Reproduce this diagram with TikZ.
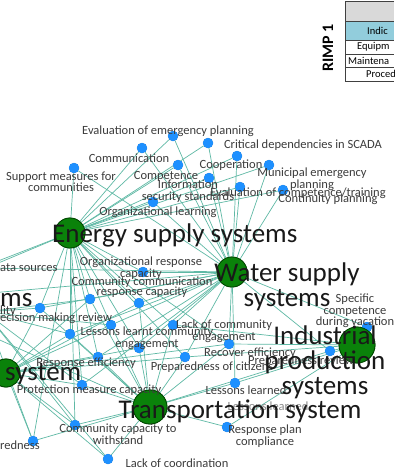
\documentclass[tikz,border=0pt]{standalone}
\usepackage{fontspec}
\setmainfont{Carlito}
\usetikzlibrary{positioning}
\definecolor{hubgreen}{RGB}{10,130,10}
\definecolor{hubline}{RGB}{0,70,0}
\definecolor{nodeblue}{RGB}{30,144,255}
\definecolor{edgeteal}{RGB}{95,185,165}
\definecolor{labelgray}{RGB}{60,60,60}
\definecolor{headgray}{RGB}{217,217,217}
\definecolor{rowblue}{RGB}{146,205,220}

\begin{document}
\begin{tikzpicture}[x=1pt, y=-1pt,
    % Node styles
    hub/.style={circle, draw=hubline, fill=hubgreen, thick, inner sep=0pt},
    item/.style={circle, fill=nodeblue, draw=nodeblue!75!black, line width=0.3pt, minimum size=10pt, inner sep=0pt},
    hublabel/.style={font=\fontsize{27}{25}\selectfont, text=black!90, align=center, inner sep=0pt},
    itemlabel/.style={font=\fontsize{12.5}{11.5}\selectfont, text=labelgray, align=center, inner sep=0pt},
    celltext/.style={font=\fontsize{10.5}{12}\selectfont, anchor=west, inner sep=0pt},
    % Edge styles
    edge/.style={draw=edgeteal, line width=0.7pt},
    cell/.style={draw=black!75, line width=0.6pt}
]
\useasboundingbox (0,0) rectangle (394,469);
\fill[white] (0,0) rectangle (394,469);
\clip (0,0) rectangle (394,469);

% Table corner
\fill[headgray] (345,1) rectangle (394,21);
\fill[rowblue] (345,21) rectangle (394,40);
\draw[cell] (394,1) -- (345,1) -- (345,81) -- (394,81);
\draw[cell] (345,21) -- (394,21);
\draw[cell] (345,40) -- (394,40);
\draw[cell] (345,54) -- (394,54);
\draw[cell] (345,67) -- (394,67);
\node[celltext] (tindic) at (367,31) {Indic};
\node[celltext] (tequip) at (357,47) {Equipm};
\node[celltext] (tmaint) at (348,61) {Maintena};
\node[celltext] (tproc) at (366,74) {Procedu};
\node[rotate=90, font=\fontsize{16}{16}\selectfont\bfseries, inner sep=0pt] (rimp) at (328,48) {RIMP 1};

% Hubs
\node[hub, minimum size=30pt] (energy) at (70,233) {};
\node[hub, minimum size=30pt] (water) at (232,272) {};
\node[hub, minimum size=36pt] (indus) at (357,345) {};
\node[hub, minimum size=34pt] (transp) at (150,407) {};
\node[hub, minimum size=28pt] (lefthub) at (6,373) {};

% Hubs outside the frame
\coordinate (offsys) at (-90,300);
\coordinate (offdata) at (-20,268);
\coordinate (offlity) at (-15,312);

% Top items
\node[item] (evalplan) at (173,136) {};
\node[item] (comm) at (142,148) {};
\node[item] (support) at (74,168) {};
\node[item] (compet) at (178,165) {};
\node[item] (orglearn) at (153,202) {};
\node[item] (scada) at (208,143) {};
\node[item] (coop) at (237,156) {};
\node[item] (munic) at (269,165) {};
\node[item] (infosec) at (209,178) {};
\node[item] (evalcomp) at (240,187) {};
\node[item] (contin) at (283,190) {};

% Middle items
\node[item] (orgresp) at (143,272) {};
\node[item] (decrev) at (40,308) {};
\node[item] (commcom) at (90,299) {};
\node[item] (respcap) at (139,303) {};
\node[item] (lesslc) at (111,325) {};
\node[item] (lackce) at (173,325) {};
\node[item] (learnrev) at (70,334) {};
\node[item] (engage) at (139,348) {};
\node[item] (recover) at (229,344) {};
\node[item] (respeff) at (98,357) {};
\node[item] (prepcit) at (185,357) {};
\node[item] (prepre) at (330,351) {};
\node[item] (specific) at (367,327) {};

% Bottom items
\node[item] (protect) at (82,385) {};
\node[item] (lesson) at (235,383) {};
\node[item] (respplan) at (227,427) {};
\node[item] (capwith) at (75,425) {};
\node[item] (prepared) at (33,441) {};
\node[item] (lackco) at (108,459) {};

% Draw all edges
\begin{scope}[on background layer/.try]
\foreach \n in {support, comm, evalplan, compet, orglearn, scada, coop, munic, infosec, evalcomp, contin, orgresp, commcom, respcap, decrev, lesslc, lackce, learnrev, engage, recover, respeff, prepcit, protect, capwith, prepared, offdata, offsys}
  \draw[edge] (energy) -- (\n);
\foreach \n in {evalplan, scada, coop, munic, infosec, evalcomp, contin, compet, orglearn, comm, support, orgresp, commcom, respcap, decrev, lesslc, lackce, learnrev, engage, recover, respeff, prepcit, prepre, specific, lesson, protect, offdata, offsys}
  \draw[edge] (water) -- (\n);
\foreach \n in {engage, respeff, prepcit, recover, protect, lesson, respplan, capwith, prepared, lackco, lackce, lesslc, learnrev, prepre, decrev, commcom, respcap, offsys}
  \draw[edge] (transp) -- (\n);
\foreach \n in {prepre, specific, recover, prepcit, lesson, respplan, lackce}
  \draw[edge] (indus) -- (\n);
\foreach \n in {respeff, protect, capwith, prepared, lackco, learnrev, decrev, engage, prepcit, lesslc, commcom, respcap, recover}
  \draw[edge] (lefthub) -- (\n);
\foreach \n in {decrev, learnrev, lesslc, commcom, protect, capwith, prepared, lackco}
  \draw[edge] (offlity) -- (\n);
\end{scope}

% Redraw nodes over the edges
\foreach \n in {evalplan, comm, support, compet, orglearn, scada, coop, munic, infosec, evalcomp, contin, orgresp, decrev, commcom, respcap, lesslc, lackce, learnrev, engage, recover, respeff, prepcit, prepre, specific, protect, lesson, respplan, capwith, prepared, lackco}
  \fill[nodeblue] (\n) circle (5pt);
\foreach \n/\r in {energy/15, water/15, indus/18, transp/17, lefthub/14}
  \draw[hubline, fill=hubgreen, thick] (\n) circle (\r pt);

% Item labels
\node[itemlabel] (l-evalplan) at (168,131) {Evaluation of emergency planning};
\node[itemlabel] (l-comm) at (129,158) {Communication};
\node[itemlabel] (l-support) at (61,182) {Support measures for\\communities};
\node[itemlabel] (l-compet) at (166,176) {Competence};
\node[itemlabel] (l-infosec) at (188,191) {Information\\security standards};
\node[itemlabel] (l-orglearn) at (158,212) {Organizational learning};
\node[itemlabel] (l-scada) at (303,145) {Critical dependencies in SCADA};
\node[itemlabel] (l-coop) at (231,165) {Cooperation};
\node[itemlabel] (l-munic) at (312,179) {Municipal emergency\\planning};
\node[itemlabel] (l-evalcomp) at (298,193) {Evaluation of competence/training};
\node[itemlabel] (l-contin) at (328,199) {Continuity planning};
\node[itemlabel, anchor=west] (l-data) at (0,268) {ata sources};
\node[itemlabel] (l-orgresp) at (141,268) {Organizational response\\capacity};
\node[itemlabel] (l-commcom) at (142,282) {Community communication};
\node[itemlabel] (l-respcap) at (142,292) {response capacity};
\node[itemlabel, anchor=west] (l-lity) at (0,311) {lity};
\node[itemlabel, anchor=west] (l-decrev) at (0,318) {ecision making review};
\node[itemlabel] (l-lesslc) at (147,338) {Lessons learnt community\\engagement};
\node[itemlabel] (l-lackce) at (224,331) {Lack of community\\engagement};
\node[itemlabel] (l-recover) at (250,353) {Recover efficiency};
\node[itemlabel] (l-respeff) at (86,363) {Response efficiency};
\node[itemlabel] (l-prepcit) at (212,367) {Preparedness of citizens};
\node[itemlabel] (l-prepre) at (301,361) {Preparedness review};
\node[itemlabel] (l-specific) at (355,311) {Specific\\competence\\during vacation};
\node[itemlabel] (l-protect) at (89,390) {Protection measure capacity};
\node[itemlabel] (l-lesson) at (246,390) {Lessons learned};
\node[itemlabel, text=labelgray!60] (l-lesson2) at (268,406) {Lessons learned};
\node[itemlabel] (l-respplan) at (265,436) {Response plan\\compliance};
\node[itemlabel] (l-capwith) at (118,434) {Community capacity to\\withstand};
\node[itemlabel, anchor=west] (l-prepared) at (0,445) {redness};
\node[itemlabel] (l-lackco) at (177,463) {Lack of coordination};

% Hub labels
\node[hublabel, anchor=west] (l-energy) at (52,235) {Energy supply systems};
\node[hublabel] (l-water) at (287,287) {Water supply\\systems};
\node[hublabel] (l-indus) at (325,362) {Industrial\\production\\systems};
\node[hublabel] (l-transp) at (240,411) {Transportation system};
\node[hublabel, anchor=west] (l-lefthub) at (5,374) {system};
\node[hublabel, anchor=west] (l-offsys) at (0,300) {ms};

\end{tikzpicture}
\end{document}
